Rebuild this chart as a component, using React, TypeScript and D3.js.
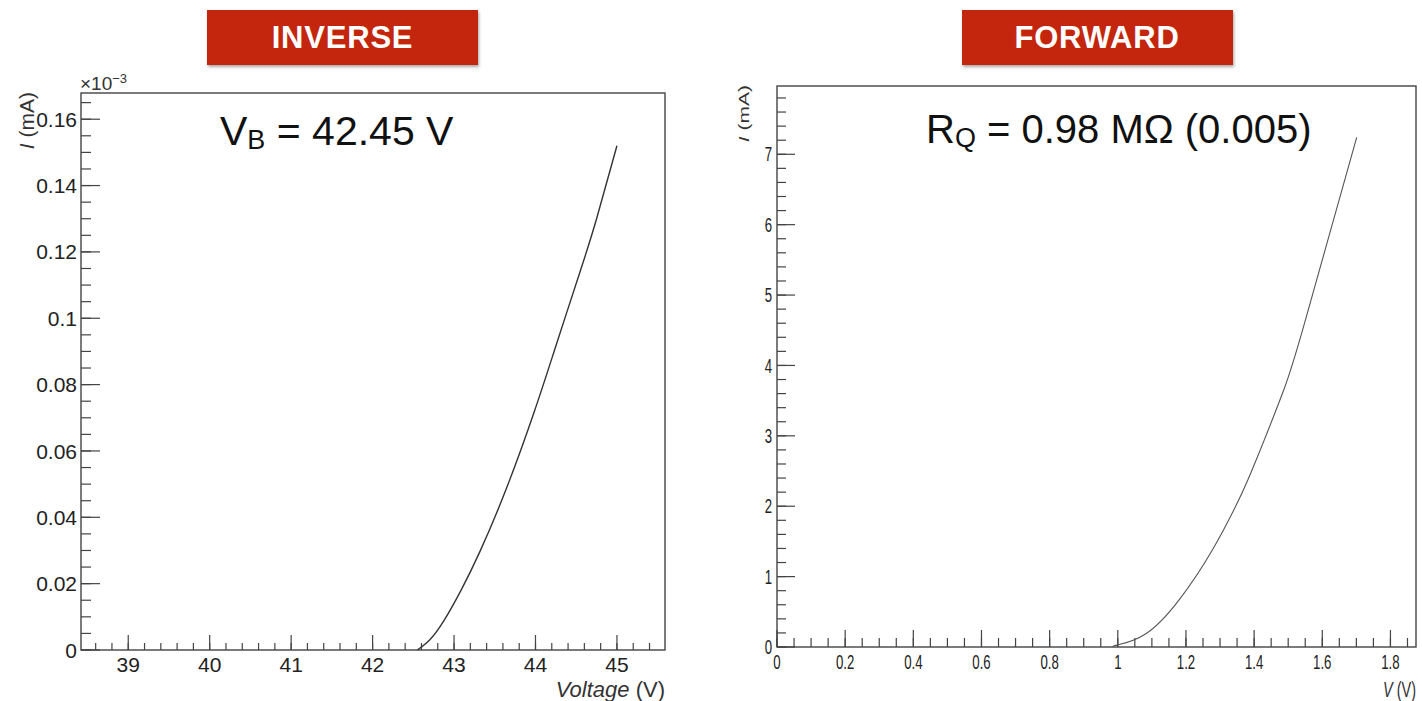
import React from 'react';
import * as d3 from 'd3';

// ---- data ----
const inverseVoltage = [42.55, 42.7, 42.87, 43.09, 43.32, 43.64, 43.99, 44.26, 44.56, 44.75, 45.0];
const inverseCurrent = [0, 0.003, 0.0086, 0.0182, 0.0298, 0.0485, 0.0722, 0.0924, 0.115, 0.13, 0.152];
const forwardVoltage = [0.985, 1.0, 1.08, 1.18, 1.28, 1.354, 1.403, 1.486, 1.549, 1.701];
const forwardCurrent = [0, 0.03, 0.18, 0.67, 1.4, 2.08, 2.62, 3.64, 4.62, 7.24];

const inverseXTicks = [39, 40, 41, 42, 43, 44, 45];
const inverseXTickLabels = ['39', '40', '41', '42', '43', '44', '45'];
const inverseYTicks = [0, 0.02, 0.04, 0.06, 0.08, 0.1, 0.12, 0.14, 0.16];
const inverseYTickLabels = ['0', '0.02', '0.04', '0.06', '0.08', '0.1', '0.12', '0.14', '0.16'];
const forwardXTicks = [0, 0.2, 0.4, 0.6, 0.8, 1, 1.2, 1.4, 1.6, 1.8];
const forwardXTickLabels = ['0', '0.2', '0.4', '0.6', '0.8', '1', '1.2', '1.4', '1.6', '1.8'];
const forwardYTicks = [0, 1, 2, 3, 4, 5, 6, 7];
const forwardYTickLabels = ['0', '1', '2', '3', '4', '5', '6', '7'];

const FONT = "'Liberation Sans', Arial, Helvetica, sans-serif";

function minorRange(d0: number, d1: number, step: number) {
  const a = Math.ceil(d0 / step - 1e-9);
  const b = Math.floor(d1 / step + 1e-9);
  return d3.range(a, b + 1).map((k) => k * step);
}

type PanelCfg = {
  left: number; right: number; top: number; bottom: number;
  xDomain: [number, number]; yDomain: [number, number];
  xs: number[]; ys: number[];
  xTicks: number[]; xLabels: string[]; yTicks: number[]; yLabels: string[];
  xMinor: number; yMinor: number;
  xMajLen: number; xMinLen: number; yMajLen: number; yMinLen: number;
  sx: number; tickFont: number; xLabelY: number; yLabelX: number;
  curveColor: string; curveWidth: number;
};

function T(props: { x: number; y: number; sx?: number; anchor?: string; size: number; children: any; fill?: string }) {
  const { x, y, sx = 1, anchor = 'start', size, children, fill = '#222' } = props;
  const tr = `translate(${x},${y}) scale(${sx},1)`;
  return (
    <text transform={tr} textAnchor={anchor} fontSize={size} fontFamily={FONT} fill={fill}>
      {children}
    </text>
  );
}

function Panel({ c }: { c: PanelCfg }) {
  const x = d3.scaleLinear().domain(c.xDomain).range([c.left, c.right]);
  const y = d3.scaleLinear().domain(c.yDomain).range([c.bottom, c.top]);
  const pts: [number, number][] = c.xs.map((v, i) => [v, c.ys[i]]);
  const line = d3.line<[number, number]>().x((d) => x(d[0])).y((d) => y(Math.max(0, d[1]))).curve(d3.curveNatural);
  const xm = minorRange(c.xDomain[0], c.xDomain[1], c.xMinor);
  const ym = minorRange(c.yDomain[0], c.yDomain[1], c.yMinor);
  const stroke = '#444';
  return (
    <g>
      <rect x={c.left} y={c.top} width={c.right - c.left} height={c.bottom - c.top} fill="none" stroke={stroke} strokeWidth={1.4} />
      {xm.map((v, i) => (
        <line key={'xm' + i} x1={x(v)} x2={x(v)} y1={c.bottom} y2={c.bottom - c.xMinLen} stroke={stroke} strokeWidth={1.2} />
      ))}
      {c.xTicks.map((v, i) => (
        <line key={'xM' + i} x1={x(v)} x2={x(v)} y1={c.bottom} y2={c.bottom - c.xMajLen} stroke={stroke} strokeWidth={1.2} />
      ))}
      {ym.map((v, i) => (
        <line key={'ym' + i} x1={c.left} x2={c.left + c.yMinLen} y1={y(v)} y2={y(v)} stroke={stroke} strokeWidth={1.2} />
      ))}
      {c.yTicks.map((v, i) => (
        <line key={'yM' + i} x1={c.left} x2={c.left + c.yMajLen} y1={y(v)} y2={y(v)} stroke={stroke} strokeWidth={1.2} />
      ))}
      {c.xTicks.map((v, i) => (
        <T key={'xl' + i} x={x(v)} y={c.xLabelY} sx={c.sx} anchor="middle" size={c.tickFont}>{c.xLabels[i]}</T>
      ))}
      {c.yTicks.map((v, i) => (
        <T key={'yl' + i} x={c.yLabelX} y={y(v) + c.tickFont * 0.36} sx={c.sx} anchor="end" size={c.tickFont}>{c.yLabels[i]}</T>
      ))}
      <path d={line(pts) || ''} fill="none" stroke={c.curveColor} strokeWidth={c.curveWidth} />
    </g>
  );
}

const leftCfg: PanelCfg = {
  left: 81, right: 665, top: 93, bottom: 650,
  xDomain: [38.42, 45.59], yDomain: [0, 0.1679],
  xs: inverseVoltage, ys: inverseCurrent,
  xTicks: inverseXTicks, xLabels: inverseXTickLabels, yTicks: inverseYTicks, yLabels: inverseYTickLabels,
  xMinor: 0.2, yMinor: 0.005,
  xMajLen: 15, xMinLen: 7, yMajLen: 19, yMinLen: 10,
  sx: 1, tickFont: 21, xLabelY: 672, yLabelX: 77,
  curveColor: '#333', curveWidth: 1.4,
};

const rightCfg: PanelCfg = {
  left: 777, right: 1416, top: 86, bottom: 647,
  xDomain: [0, 1.875], yDomain: [0, 7.97],
  xs: forwardVoltage, ys: forwardCurrent,
  xTicks: forwardXTicks, xLabels: forwardXTickLabels, yTicks: forwardYTicks, yLabels: forwardYTickLabels,
  xMinor: 0.05, yMinor: 0.2,
  xMajLen: 17, xMinLen: 9, yMajLen: 18, yMinLen: 9,
  sx: 0.66, tickFont: 20, xLabelY: 669, yLabelX: 772,
  curveColor: '#555', curveWidth: 1.1,
};

export default function App() {
  return (
    <svg width={1422} height={701} style={{ position: 'absolute', left: 0, top: 0, background: '#fff' }}>
      <defs>
        <filter id="shadow" x="-10%" y="-20%" width="130%" height="160%">
          <feDropShadow dx="1" dy="2" stdDeviation="1.5" floodColor="#000" floodOpacity="0.35" />
        </filter>
      </defs>
      <rect x={0} y={0} width={1422} height={701} fill="#fff" />

      {/* title boxes */}
      <rect x={207} y={10} width={271} height={55} fill="#c3280d" filter="url(#shadow)" />
      <text x={342.5} y={48} textAnchor="middle" fontSize={31} letterSpacing={0.8} fontWeight="bold" fill="#fff" fontFamily={FONT}>INVERSE</text>
      <rect x={962} y={10} width={271} height={55} fill="#c3280d" filter="url(#shadow)" />
      <text x={1097} y={48} textAnchor="middle" fontSize={31} letterSpacing={0.8} fontWeight="bold" fill="#fff" fontFamily={FONT}>FORWARD</text>

      <Panel c={leftCfg} />
      <Panel c={rightCfg} />

      {/* left panel texts */}
      <text x={80} y={90} fontSize={19} fontFamily={FONT} fill="#333">
        ×10<tspan dy={-7} fontSize={13}>−3</tspan>
      </text>
      <text transform="translate(34,92) rotate(-90)" textAnchor="end" fontSize={21} fontFamily={FONT} fill="#333">
        <tspan fontStyle="italic">I</tspan> (mA)
      </text>
      <text x={665} y={697} textAnchor="end" fontSize={22} fontFamily={FONT} fill="#333">
        <tspan fontStyle="italic">Voltage</tspan> (V)
      </text>
      <text x={220} y={145} fontSize={41} fontFamily={FONT} fill="#111">
        V<tspan dy={4} fontSize={27}>B</tspan><tspan dy={-4}> = 42.45 V</tspan>
      </text>

      {/* right panel texts */}
      <text transform="translate(749,85) scale(0.66,1) rotate(-90)" textAnchor="end" fontSize={21} fontFamily={FONT} fill="#333">
        <tspan fontStyle="italic">I</tspan> (mA)
      </text>
      <text transform="translate(1416,697) scale(0.66,1)" textAnchor="end" fontSize={22} fontFamily={FONT} fill="#333">
        <tspan fontStyle="italic">V</tspan> (V)
      </text>
      <text x={926} y={143} fontSize={40} fontFamily={FONT} fill="#111">
        R<tspan dy={4} fontSize={27}>Q</tspan><tspan dy={-4}> = 0.98 MΩ (0.005)</tspan>
      </text>
    </svg>
  );
}
